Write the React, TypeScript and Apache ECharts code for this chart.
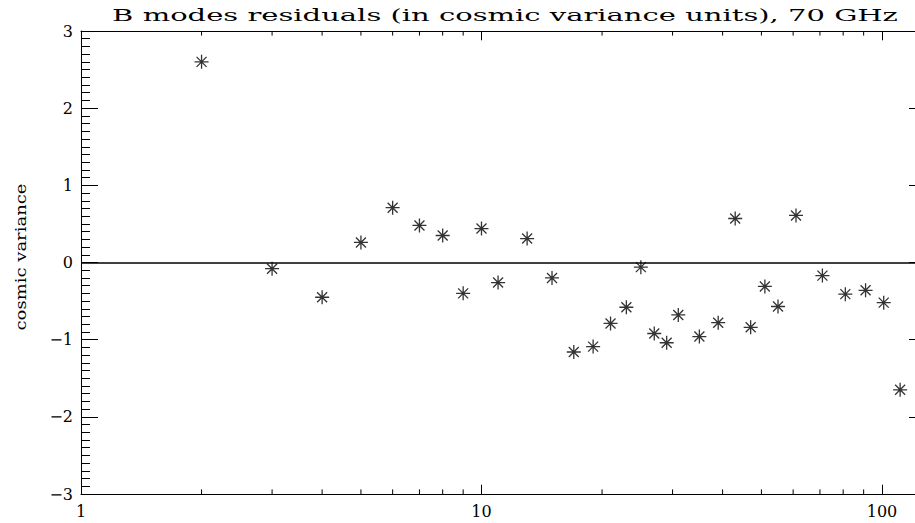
import React, { useEffect, useRef } from 'react';
import * as echarts from 'echarts';

const TITLE = 'B modes residuals (in cosmic variance units), 70 GHz';
const Y_NAME = 'cosmic variance';

const multipoles = [2, 3, 4, 5, 6, 7, 8, 9, 10, 11, 13, 15, 17, 19, 21, 23, 25, 27, 29, 31, 35, 39, 43, 47, 51, 55, 61, 71, 81, 91, 101, 111];
const residuals = [2.6, -0.08, -0.45, 0.26, 0.71, 0.48, 0.35, -0.4, 0.44, -0.26, 0.31, -0.2, -1.16, -1.09, -0.79, -0.58, -0.06, -0.92, -1.04, -0.68, -0.96, -0.78, 0.57, -0.84, -0.31, -0.57, 0.61, -0.17, -0.41, -0.36, -0.52, -1.65];
const xMinorTicks = [2, 3, 4, 5, 6, 7, 8, 9, 20, 30, 40, 50, 60, 70, 80, 90];

const X_MIN = 1;
const X_MAX = 128.8;
const Y_MIN = -3;
const Y_MAX = 3;

const FONT = '"DejaVu Serif", serif';
const STAR = 'path://M0,7L14,7M7,0L7,14M2,2L12,12M12,2L2,12';

const CHART_W = 940;
const CHART_H = 523;

function measure(text: string, font: string): number {
  const c = document.createElement('canvas');
  const ctx = c.getContext('2d');
  if (!ctx) return text.length * 8;
  ctx.font = font;
  return ctx.measureText(text).width;
}

export default function App() {
  const ref = useRef<HTMLDivElement>(null);

  useEffect(() => {
    if (!ref.current) return;
    const chart = echarts.init(ref.current, undefined, { renderer: 'svg' });

    const titleW = measure(TITLE, '17px "DejaVu Serif"');
    const nameW = measure(Y_NAME, '14px "DejaVu Serif"');

    const fmtY = (v: number) => (v < 0 ? '\u2212' + String(-v) : String(v));

    chart.setOption({
      animation: false,
      backgroundColor: '#ffffff',
      grid: { left: 81, right: CHART_W - 926, top: 31, bottom: 29, containLabel: false },
      xAxis: [
        {
          type: 'log',
          logBase: 10,
          min: X_MIN,
          max: X_MAX,
          position: 'bottom',
          axisLine: { show: true, onZero: false, lineStyle: { color: '#000', width: 1 } },
          axisTick: { show: true, inside: true, length: 9.3, lineStyle: { color: '#000', width: 1 } },
          axisLabel: {
            show: true,
            margin: 9,
            color: '#000',
            fontFamily: FONT,
            fontSize: 16,
            showMaxLabel: false,
            formatter: (v: number) => String(Math.round(v)),
          },
          splitLine: { show: false },
          minorTick: { show: false },
        },
        {
          type: 'log',
          logBase: 10,
          min: X_MIN,
          max: X_MAX,
          position: 'top',
          axisLine: { show: true, onZero: false, lineStyle: { color: '#000', width: 1 } },
          axisTick: { show: true, inside: true, length: 9.3, lineStyle: { color: '#000', width: 1 } },
          axisLabel: { show: false },
          splitLine: { show: false },
        },
      ],
      yAxis: [
        {
          type: 'value',
          min: Y_MIN,
          max: Y_MAX,
          interval: 1,
          position: 'left',
          axisLine: { show: true, onZero: false, lineStyle: { color: '#000', width: 1 } },
          axisTick: { show: true, inside: true, length: 17, lineStyle: { color: '#000', width: 1 } },
          minorTick: { show: true, splitNumber: 10, length: 9, lineStyle: { color: '#000', width: 1 } },
          axisLabel: { show: true, margin: 8, color: '#000', fontFamily: FONT, fontSize: 16, formatter: fmtY },
          splitLine: { show: false },
        },
        {
          type: 'value',
          min: Y_MIN,
          max: Y_MAX,
          interval: 1,
          position: 'right',
          axisLine: { show: true, onZero: false, lineStyle: { color: '#000', width: 1 } },
          axisTick: { show: true, inside: true, length: 17, lineStyle: { color: '#000', width: 1 } },
          minorTick: { show: true, splitNumber: 10, length: 9, lineStyle: { color: '#000', width: 1 } },
          axisLabel: { show: false },
          splitLine: { show: false },
        },
      ],
      graphic: [
        {
          type: 'text',
          x: 505,
          y: 15.5,
          scaleX: 786 / titleW,
          silent: true,
          style: {
            text: TITLE,
            font: '17px "DejaVu Serif"',
            fill: '#000',
            textAlign: 'center',
            textVerticalAlign: 'middle',
          },
        },
        {
          type: 'text',
          x: 21,
          y: 257,
          rotation: Math.PI / 2,
          scaleX: 147 / nameW,
          silent: true,
          style: {
            text: Y_NAME,
            font: '14px "DejaVu Serif"',
            fill: '#000',
            textAlign: 'center',
            textVerticalAlign: 'middle',
          },
        },
      ],
      series: [
        {
          type: 'custom',
          xAxisIndex: 0,
          yAxisIndex: 0,
          silent: true,
          clip: false,
          data: xMinorTicks.map((v) => [v, 0]),
          encode: { x: 0, y: 1 },
          renderItem: (params: any, api: any) => {
            const x = api.value(0);
            const b = api.coord([x, Y_MIN]);
            const t = api.coord([x, Y_MAX]);
            return {
              type: 'group',
              children: [
                { type: 'line', shape: { x1: b[0], y1: b[1], x2: b[0], y2: b[1] - 4.6 }, style: { stroke: '#000', lineWidth: 1 } },
                { type: 'line', shape: { x1: t[0], y1: t[1], x2: t[0], y2: t[1] + 4.6 }, style: { stroke: '#000', lineWidth: 1 } },
              ],
            };
          },
        },
        {
          type: 'scatter',
          xAxisIndex: 0,
          yAxisIndex: 0,
          symbol: STAR,
          symbolSize: 14,
          itemStyle: { color: 'rgba(0,0,0,0)', borderColor: '#000', borderWidth: 1.3 },
          data: multipoles.map((l, i) => [l, residuals[i]]),
          markLine: {
            silent: true,
            symbol: ['none', 'none'],
            label: { show: false },
            lineStyle: { color: '#000', width: 1.5, type: 'solid' },
            data: [{ yAxis: 0 }],
          },
        },
      ],
    });

    return () => chart.dispose();
  }, []);

  return (
    <div style={{ position: 'fixed', left: 0, top: 0, width: 915, height: 523, overflow: 'hidden', background: '#fff' }}>
      <div ref={ref} style={{ width: CHART_W, height: CHART_H }} />
    </div>
  );
}
